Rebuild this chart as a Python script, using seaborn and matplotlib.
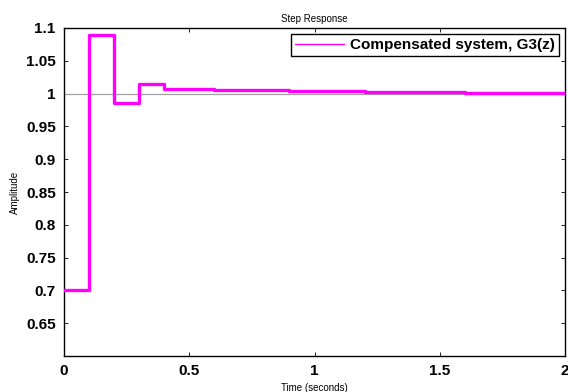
import numpy as np
import pandas as pd
import matplotlib
matplotlib.use("Agg")
import matplotlib.pyplot as plt
import seaborn as sns
from matplotlib.lines import Line2D

# Data
time_s = [0.0, 0.1, 0.2, 0.3, 0.4, 0.5, 0.6, 0.7, 0.8, 0.9, 1.0, 1.1, 1.2, 1.3, 1.4, 1.5, 1.6, 1.7, 1.8, 1.9, 2.0]
amplitude = [0.700, 1.089, 0.986, 1.014, 1.007, 1.007, 1.006, 1.006, 1.005, 1.004, 1.004, 1.004, 1.002, 1.002, 1.002, 1.002, 1.001, 1.001, 1.001, 1.001, 1.001]
x_ticks = [0, 0.5, 1, 1.5, 2]
x_tick_labels = ["0", "0.5", "1", "1.5", "2"]
y_ticks = [0.65, 0.7, 0.75, 0.8, 0.85, 0.9, 0.95, 1.0, 1.05, 1.1]
y_tick_labels = ["0.65", "0.7", "0.75", "0.8", "0.85", "0.9", "0.95", "1", "1.05", "1.1"]
series_name = "Compensated system, G3(z)"

df = pd.DataFrame({"Time": time_s, "Amplitude": amplitude})

sns.set_style("white")
plt.rcParams['font.family'] = ['Liberation Sans', 'DejaVu Sans']
plt.rcParams['text.color'] = 'black'
plt.rcParams['axes.labelcolor'] = 'black'
plt.rcParams['xtick.color'] = 'black'
plt.rcParams['ytick.color'] = 'black'

fig = plt.figure(figsize=(5.68, 3.92), dpi=100)
ax = fig.add_axes([0.1127, 0.0918, 0.8820, 0.8368])

ax.axhline(1.0, color="#a0a0a0", lw=0.9, zorder=1)
sns.lineplot(data=df, x="Time", y="Amplitude", ax=ax, drawstyle="steps-post",
             color="#ff00ff", lw=2.4, zorder=3, legend=False)

ax.set_xlim(0, 2)
ax.set_ylim(0.6, 1.1)
ax.set_xticks(x_ticks)
ax.set_xticklabels(x_tick_labels, fontsize=11, fontweight="bold", color="black")
ax.set_yticks(y_ticks)
ax.set_yticklabels(y_tick_labels, fontsize=11, fontweight="bold", color="black")
ax.tick_params(direction="in", length=3, width=0.6, top=True, right=True,
               bottom=True, left=True, pad=6, color="#000000")
for s in ax.spines.values():
    s.set_color("black")
    s.set_linewidth(1.0)

ax.set_title("Step Response", fontsize=7, pad=4, color="black")
ax.set_xlabel("Time (seconds)", fontsize=7, labelpad=3, color="black")
ax.set_ylabel("Amplitude", fontsize=7, labelpad=4, color="black")

handle = Line2D([], [], color="#ff00ff", lw=1.0)
leg = ax.legend([handle], [series_name], loc="upper right",
                prop={"size": 11, "weight": "bold"}, frameon=True,
                fancybox=False, framealpha=1, edgecolor="black",
                handlelength=3.2, handletextpad=0.4, borderpad=0.25,
                borderaxespad=0.4)
for t in leg.get_texts():
    t.set_color("black")
leg.get_frame().set_linewidth(1.0)

fig.savefig("out.png", dpi=100)
